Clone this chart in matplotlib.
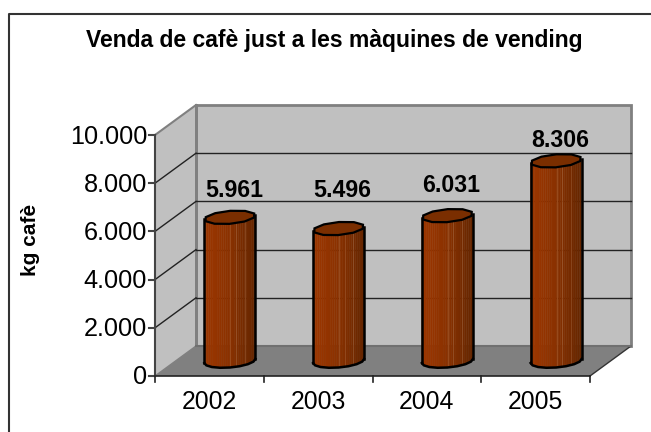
import numpy as np
import matplotlib
matplotlib.use('Agg')
import matplotlib.pyplot as plt
from matplotlib.patches import Polygon

anys = ['2002', '2003', '2004', '2005']
vendes = [5961, 5496, 6031, 8306]
etiquetes = ['5.961', '5.496', '6.031', '8.306']
marques_y = [0, 2000, 4000, 6000, 8000, 10000]
marques_txt = ['0', '2.000', '4.000', '6.000', '8.000', '10.000']
# distancia en pixels de cada etiqueta sobre la columna
dist_etiqueta = [27, 38, 30, 20]

plt.rcParams['font.family'] = ['Liberation Sans', 'DejaVu Sans']

W, H = 651, 432
# pixels per unit on each scale, origin of the front corner
px_x = 108.75
px_y = 24.1 / 1000
x0, y0 = 155, 376
fons_x = 41 / px_x
fons_y = 30 / px_y

fig = plt.figure(figsize=(W / 100, H / 100), dpi=100)
ax = fig.add_axes([0, 0, 1, 1])
ax.set_xlim(-x0 / px_x, (W - x0) / px_x)
ax.set_ylim(-(H - y0) / px_y, y0 / px_y)
ax.axis('off')

def f(x, y, d=1.0):
    # punt amb profunditat d (0 davant, 1 fons)
    return (x + d * fons_x, y + d * fons_y)

def fx(p):
    return (p - x0) / px_x

def fy(p):
    return (y0 - p) / px_y

n = len(anys)
ymax = marques_y[-1]

# marc exterior: nomes dalt i esquerra, la resta queda fora de la imatge
ax.plot([fx(8.5), fx(8.5), fx(651)], [fy(432), fy(13.5), fy(13.5)], color='#333333', lw=1.5, zorder=1)

# parets i terra
ax.add_patch(Polygon([f(0, 0), f(0, ymax), f(0, ymax, 0), f(0, 0, 0)], fc='#c0c0c0', ec='none', zorder=1))
ax.add_patch(Polygon([f(0, 0), f(0, ymax), f(n, ymax), f(n, 0)], fc='#c0c0c0', ec='#808080', lw=2, zorder=1))
ax.add_patch(Polygon([f(0, 0, 0), f(n, 0, 0), f(n, 0), f(0, 0)], fc='#808080', ec='none', zorder=2))
ax.plot(*zip(f(0, 0), f(0, ymax)), color='#808080', lw=2, zorder=2)
ax.plot(*zip(f(0, ymax, 0), f(0, ymax)), color='#808080', lw=1.5, zorder=2)
ax.plot(*zip(f(n, 0), f(n, 0, 0)), color='#333333', lw=1, zorder=3)
ax.plot(*zip(f(0, 0), f(n, 0)), color='#707070', lw=1.5, zorder=3)

for v in marques_y[1:-1]:
    ax.plot(*zip(f(0, v), f(n, v)), color='#222222', lw=1, zorder=2)
    ax.plot(*zip(f(0, v, 0), f(0, v)), color='#222222', lw=1, zorder=2)
ax.plot(*zip(f(0, 0, 0), f(0, 0)), color='#808080', lw=1, zorder=2)

# eixos davanters
ax.plot([0, 0], [0, ymax], color='#444444', lw=1.5, zorder=6)
ax.plot([0, n], [0, 0], color='#222222', lw=1.2, zorder=6)
tick_x = 6 / px_x
tick_y = 6 / px_y
for v, t in zip(marques_y, marques_txt):
    ax.plot([-tick_x, 0], [v, v], color='#444444', lw=1.5, zorder=6)
    ax.text(-8 / px_x, v - 1.5 / px_y, t, ha='right', va='center', fontsize=18.2, color='black')
for i in range(n + 1):
    ax.plot([i, i], [0, -tick_y], color='#222222', lw=1.2, zorder=6)
for i, a in enumerate(anys):
    ax.text(i + 0.5, -26 / px_y, a, ha='center', va='center', fontsize=17.8, color='black')

# columnes
ra = 25.5 / px_x
rb = 6.5 / px_y
incl = 2.0 / px_y
t = np.linspace(0, 2 * np.pi, 11)[:-1] + 0.3
franges = 24
c_esq = np.array([0x9C, 0x36, 0x00]) / 255
c_mig = np.array([0x8A, 0x31, 0x00]) / 255
c_dre = np.array([0x66, 0x26, 0x00]) / 255

for i, v in enumerate(vendes):
    cx, cy = f(i + 0.5, 0, 0.5)
    top = cy + v
    ll = np.linspace(-1, 1, franges + 1)
    for k in range(franges):
        a, b = ll[k], ll[k + 1]
        u = k / (franges - 1)
        if u < 0.5:
            col = c_esq + (c_mig - c_esq) * u * 2
        else:
            col = c_mig + (c_dre - c_mig) * (u - 0.5) * 2
        xs = np.array([a, b])
        low = -rb * np.sqrt(1 - xs ** 2) + incl * xs
        ax.add_patch(Polygon([(cx + a * ra, cy + low[0]), (cx + b * ra, cy + low[1]),
                              (cx + b * ra, top + low[1]), (cx + a * ra, top + low[0])],
                             fc=col, ec=col, lw=0.3, zorder=4))
    # reflexos verticals
    for fr in [0.02, 0.24, 0.58]:
        low = -rb * np.sqrt(1 - fr ** 2) + incl * fr
        ax.plot([cx + fr * ra] * 2, [cy + low, top + low], color='#e8c0a0', lw=0.7, alpha=0.18, zorder=4.5)
    # contorn
    tx = cx + ra * np.cos(t)
    ty = top + rb * np.sin(t) + incl * np.cos(t)
    ax.plot([cx - ra, cx - ra], [cy - incl, top - incl], color='black', lw=1.8, zorder=5)
    ax.plot([cx + ra, cx + ra], [cy + incl, top + incl], color='black', lw=1.8, zorder=5)
    bt = np.linspace(np.pi, 2 * np.pi, 9)
    ax.plot(cx + ra * np.cos(bt), cy + rb * np.sin(bt) + incl * np.cos(bt), color='black', lw=1.8, zorder=5)
    ax.add_patch(Polygon(np.column_stack([tx, ty]), fc='#7A2E00', ec='black', lw=1.6, zorder=5))
    ax.text(cx + 4 / px_x, top + dist_etiqueta[i] / px_y, etiquetes[i], ha='center', va='center',
            fontsize=16.7, fontweight='bold', color='black', zorder=7)

ax.text(fx(334.5), fy(40), 'Venda de cafè just a les màquines de vending',
        ha='center', va='center', fontsize=16.5, fontweight='bold', color='black')
ax.text(fx(31), fy(240), 'kg cafè', rotation=90, ha='center', va='center',
        fontsize=15, fontweight='bold', color='black')

fig.savefig('out.png', dpi=100)
